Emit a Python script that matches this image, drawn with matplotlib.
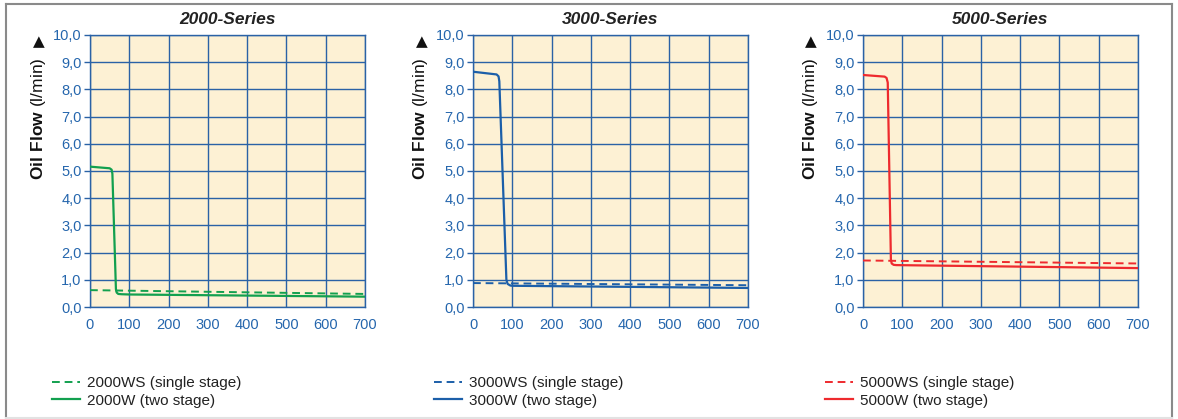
import matplotlib
matplotlib.use("Agg")
import matplotlib.pyplot as plt
from matplotlib.lines import Line2D

plt.rcParams['font.family'] = ['Liberation Sans', 'DejaVu Sans']
plt.rcParams['mathtext.fontset'] = 'custom'
plt.rcParams['mathtext.rm'] = 'Liberation Sans'
plt.rcParams['mathtext.bf'] = 'Liberation Sans:bold'

# Pressure axis (0..700) and oil-flow curves per series
titles = ["2000-Series", "3000-Series", "5000-Series"]
colors = ["#12a04f", "#1c5fa9", "#ee2a2e"]
single_labels = ["2000WS (single stage)", "3000WS (single stage)", "5000WS (single stage)"]
two_labels = ["2000W (two stage)", "3000W (two stage)", "5000W (two stage)"]

x_2000w = [0, 50, 55, 57, 66, 68, 72, 80, 100, 700]
y_2000w = [5.16, 5.10, 5.05, 4.90, 0.65, 0.53, 0.48, 0.47, 0.46, 0.38]
x_2000ws = [0, 700]
y_2000ws = [0.62, 0.48]

x_3000w = [0, 60, 65, 67, 85, 88, 95, 100, 700]
y_3000w = [8.65, 8.55, 8.48, 8.30, 1.00, 0.85, 0.79, 0.78, 0.70]
x_3000ws = [0, 700]
y_3000ws = [0.88, 0.80]

x_5000w = [0, 55, 60, 63, 71, 73, 78, 85, 700]
y_5000w = [8.53, 8.47, 8.42, 8.25, 1.75, 1.60, 1.55, 1.54, 1.43]
x_5000ws = [0, 700]
y_5000ws = [1.71, 1.60]

two_stage = [(x_2000w, y_2000w), (x_3000w, y_3000w), (x_5000w, y_5000w)]
single_stage = [(x_2000ws, y_2000ws), (x_3000ws, y_3000ws), (x_5000ws, y_5000ws)]

x_ticks = [0, 100, 200, 300, 400, 500, 600, 700]
y_ticks = [0, 1, 2, 3, 4, 5, 6, 7, 8, 9, 10]
y_tick_labels = [f"{v:.1f}".replace(".", ",") for v in y_ticks]

W, H = 1178, 419
fig = plt.figure(figsize=(W / 100, H / 100), dpi=100)
fig.patch.set_facecolor("white")

grid_blue = "#2a62a6"
tick_blue = "#2566ad"
bg = "#fdf1d4"

axes_left = [90, 473, 863]
axes_w = 275
ax_top, ax_bot = 35, 307
label_x = [38, 421, 810]
legend_x = [52, 434, 825]


def fx(px):
    return px / W


def fy(py):
    return 1 - py / H


for i in range(3):
    ax = fig.add_axes([fx(axes_left[i]), fy(ax_bot), axes_w / W, (ax_bot - ax_top) / H])
    ax.set_facecolor(bg)
    ax.set_xlim(0, 700)
    ax.set_ylim(0, 10)
    ax.set_xticks(x_ticks)
    ax.set_yticks(y_ticks)
    ax.set_yticklabels(y_tick_labels)
    ax.grid(True, color=grid_blue, lw=1.0, zorder=1)
    ax.set_axisbelow(True)
    for sp in ax.spines.values():
        sp.set_color(grid_blue)
        sp.set_linewidth(1.0)
    ax.tick_params(axis="y", length=4, width=1.0, color=grid_blue,
                   labelcolor=tick_blue, labelsize=10.5, pad=2)
    ax.tick_params(axis="x", length=0, labelcolor=tick_blue, labelsize=10.5, pad=8)

    xs, ys = single_stage[i]
    ax.plot(xs, ys, color=colors[i], lw=1.4, ls=(0, (4, 2.5)), zorder=3)
    xw, yw = two_stage[i]
    ax.plot(xw, yw, color=colors[i], lw=1.6, zorder=4, solid_joinstyle="round")

    ax.set_title(titles[i], fontsize=12.5, fontweight="bold", fontstyle="italic",
                 color="#222222", pad=8)

    fig.text(fx(label_x[i]), fy(119), r"$\mathbf{Oil\ Flow}$ (l/min)", rotation=90,
             ha="center", va="center", fontsize=12.5, color="#111111")
    fig.text(fx(label_x[i] + 1), fy(42), "\u25B2", ha="center", va="center",
             fontsize=11, color="#111111", family="DejaVu Sans")

    handles = [Line2D([], [], color=colors[i], lw=1.4, ls=(0, (4, 2.5))),
               Line2D([], [], color=colors[i], lw=1.6)]
    fig.legend(handles, [single_labels[i], two_labels[i]],
               loc="upper left", bbox_to_anchor=(fx(legend_x[i]), fy(376)),
               frameon=False, fontsize=11, handlelength=1.8, handletextpad=0.5,
               labelspacing=0.25, borderpad=0, borderaxespad=0,
               labelcolor="#222222")

# Outer frame of the figure
frame_kw = dict(transform=fig.transFigure, color="#8a8a8a", lw=1.5)
fig.add_artist(Line2D([fx(6), fx(1172)], [fy(4), fy(4)], **frame_kw))
fig.add_artist(Line2D([fx(6), fx(6)], [fy(4), fy(418)], **frame_kw))
fig.add_artist(Line2D([fx(1172), fx(1172)], [fy(4), fy(418)], **frame_kw))
fig.add_artist(Line2D([fx(6), fx(1172)], [fy(418), fy(418)],
                      transform=fig.transFigure, color="#e2e2e2", lw=1.5))

fig.savefig("out.png", dpi=100, facecolor="white")
